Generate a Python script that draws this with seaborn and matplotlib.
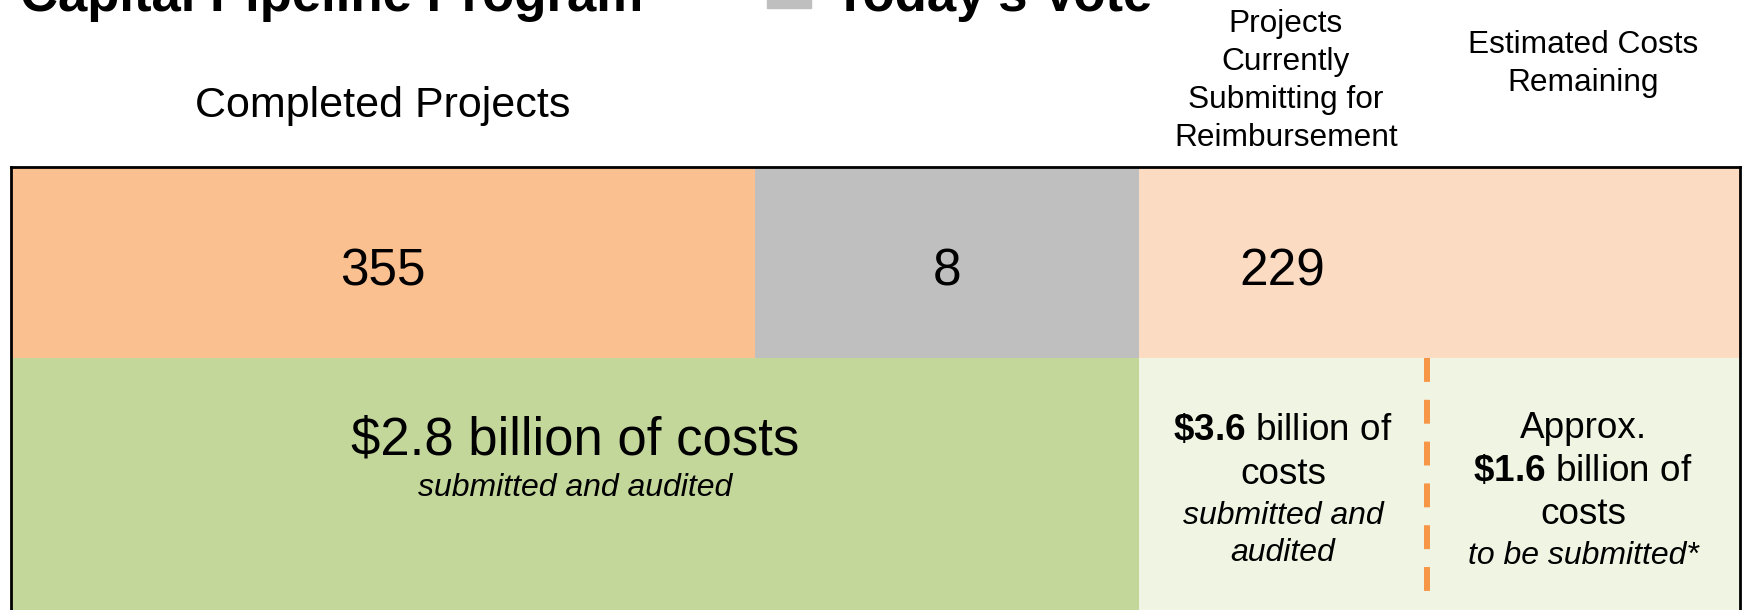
import numpy as np
import matplotlib
matplotlib.use("Agg")
import matplotlib.pyplot as plt
from matplotlib.patches import Rectangle
import seaborn as sns

# ---- data ----
title = "Capital Pipeline Program"
legend_label = "Today’s Vote"
stage_headers = ["Completed Projects",
                 "Projects\nCurrently\nSubmitting for\nReimbursement",
                 "Estimated Costs\nRemaining"]
project_counts = [355, 8, 229]
cost_billions = [2.8, 3.6, 1.6]
cost_notes = ["submitted and audited", "submitted and\naudited", "to be submitted*"]

# ---- layout (figure pixels) ----
W, H, DPI = 1743, 610, 100
box_left, box_right = 11, 1740
row_top, row_mid, row_bottom = 167, 358, 660
count_edges = [11, 755, 1139, 1740]
cost_edges = [11, 1139, 1740]
divider_x = 1427

count_colors = ["#FAC090", "#BFBFBF", "#FCDBC3"]
cost_colors = ["#C4D79B", "#EFF4E3"]
dash_color = "#F79646"

sns.set_theme(style="white")
plt.rcParams['font.family'] = ['Liberation Sans', 'DejaVu Sans']
plt.rcParams['text.color'] = 'black'
plt.rcParams['mathtext.fontset'] = 'custom'
plt.rcParams['mathtext.rm'] = 'Liberation Sans'
plt.rcParams['mathtext.bf'] = 'Liberation Sans:bold'
plt.rcParams['mathtext.it'] = 'Liberation Sans:italic'

fig = plt.figure(figsize=(W / DPI, H / DPI), dpi=DPI)
fig.patch.set_facecolor("white")
ax = fig.add_axes([box_left / W, 1 - row_bottom / H,
                   (box_right - box_left) / W, (row_bottom - row_top) / H])
ax.set_xlim(box_left, box_right)
ax.set_ylim(row_bottom, row_top)

# top row: project counts
ax.barh(y=(row_top + row_mid) / 2, width=np.diff(count_edges), left=count_edges[:-1],
        height=row_mid - row_top, color=count_colors, linewidth=0)
# bottom row: costs
ax.barh(y=(row_mid + row_bottom) / 2, width=np.diff(cost_edges), left=cost_edges[:-1],
        height=row_bottom - row_mid, color=cost_colors, linewidth=0)
ax.plot([divider_x, divider_x], [row_mid, 592], color=dash_color, lw=4.3,
        linestyle=(0, (4.0, 3.0)), dash_capstyle="butt")

for side in ["top", "left", "right"]:
    ax.spines[side].set_color("black")
    ax.spines[side].set_linewidth(2)
ax.spines["bottom"].set_visible(False)
ax.set_xticks([])
ax.set_yticks([])

# title + legend
ax.text(20, 11, title, fontsize=38, fontweight="bold", va="baseline", ha="left", color="black")
ax.add_patch(Rectangle((767, -36), 44, 44, color=count_colors[1], clip_on=False))
ax.text(834, 11, legend_label, fontsize=38, fontweight="bold", va="baseline", ha="left",
        color="black")

# column headers
ax.text(383, 117, stage_headers[0], fontsize=31, ha="center", va="baseline", color="black")
for i, line in enumerate(stage_headers[1].split("\n")):
    ax.text(1286, 32 + 38 * i, line, fontsize=22.8, ha="center", va="baseline", color="black")
for i, line in enumerate(stage_headers[2].split("\n")):
    ax.text(1583, 53 + 38 * i, line, fontsize=22.8, ha="center", va="baseline", color="black")

# counts
count_x = [383, 947, 1282]
for x, n in zip(count_x, project_counts):
    ax.text(x, 286, f"{n}", fontsize=37, ha="center", va="baseline", color="black")

# costs
ax.text(575, 454, rf"\${cost_billions[0]} billion of costs", fontsize=38,
        ha="center", va="baseline", color="black")
ax.text(575, 496, cost_notes[0], fontsize=23, style="italic", ha="center", va="baseline",
        color="black")

col2 = [rf"$\mathbf{{\$ {cost_billions[1]}}}$ billion of", "costs"]
for i, line in enumerate(col2):
    ax.text(1283, 440 + 44 * i, line, fontsize=26.6, ha="center", va="baseline", color="black")
for i, line in enumerate(cost_notes[1].split("\n")):
    ax.text(1283, 524 + 37 * i, line, fontsize=23, style="italic", ha="center", va="baseline",
            color="black")

col3 = ["Approx.", rf"$\mathbf{{\$ {cost_billions[2]}}}$ billion of", "costs"]
for i, line in enumerate(col3):
    ax.text(1583, 438 + 43 * i, line, fontsize=26.6, ha="center", va="baseline", color="black")
ax.text(1583, 564, cost_notes[2], fontsize=23, style="italic", ha="center", va="baseline",
        color="black")

fig.savefig("out.png", dpi=DPI)
